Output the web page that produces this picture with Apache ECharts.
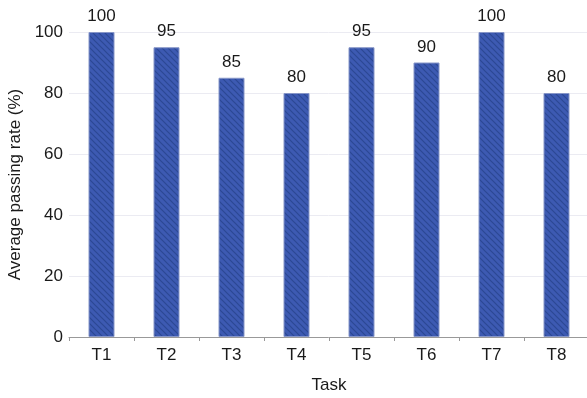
<!doctype html>
<html>
<head>
<meta charset="utf-8">
<style>
  html,body{margin:0;padding:0;background:#fff;}
  #main{width:587px;height:398px;}
</style>
</head>
<body>
<div id="main"></div>
<script src="https://cdn.jsdelivr.net/npm/echarts@6/dist/echarts.min.js"></script>
<script>
var tasks = ['T1','T2','T3','T4','T5','T6','T7','T8'];
var passRate = [100,95,85,80,95,90,100,80];
var yTicks = [0,20,40,60,80,100];

// diagonal hatch fill for the bars
function makeHatch(){
  var c = document.createElement('canvas');
  c.width = 6; c.height = 6;
  var ctx = c.getContext('2d');
  ctx.fillStyle = '#3d5ab2';
  ctx.fillRect(0,0,6,6);
  ctx.strokeStyle = '#2c4894';
  ctx.lineWidth = 1.2;
  ctx.beginPath();
  ctx.moveTo(-1,-1); ctx.lineTo(7,7);
  ctx.moveTo(-4,2); ctx.lineTo(4,10);
  ctx.moveTo(2,-4); ctx.lineTo(10,4);
  ctx.stroke();
  return c;
}

var myChart = echarts.init(document.getElementById('main'));
var font = 'Liberation Sans, Arial, sans-serif';

var option = {
  animation:false,
  grid:{ left:69, right:-2, top:32, bottom:61, outerBoundsMode:'none', containLabel:false },
  xAxis:{
    type:'category',
    data:tasks,
    name:'Task',
    nameLocation:'middle',
    nameGap:40,
    nameTextStyle:{ color:'#1a1a1a', fontSize:17, fontFamily:font },
    axisLine:{ lineStyle:{ color:'#999' } },
    axisTick:{ show:true, alignWithLabel:false, length:4, lineStyle:{ color:'#999' } },
    axisLabel:{ color:'#1a1a1a', fontSize:17, fontFamily:font, margin:10 }
  },
  yAxis:{
    type:'value',
    min:yTicks[0],
    max:yTicks[yTicks.length-1],
    interval:20,
    name:'Average passing rate (%)',
    nameLocation:'middle',
    nameGap:43,
    nameTextStyle:{ color:'#1a1a1a', fontSize:17, fontFamily:font },
    axisLine:{ show:false },
    axisTick:{ show:false },
    axisLabel:{ color:'#1a1a1a', fontSize:17, fontFamily:font, margin:6 },
    splitLine:{ lineStyle:{ color:'#ebebf2' } }
  },
  series:[{
    type:'bar',
    data:passRate,
    barWidth:26,
    itemStyle:{
      color:{ image:makeHatch(), repeat:'repeat' },
      borderColor:'#8796c8',
      borderWidth:1
    },
    label:{
      show:true,
      position:'top',
      distance:7,
      color:'#1a1a1a',
      fontSize:17,
      fontFamily:font
    }
  }]
};
myChart.setOption(option);
</script>
</body>
</html>
